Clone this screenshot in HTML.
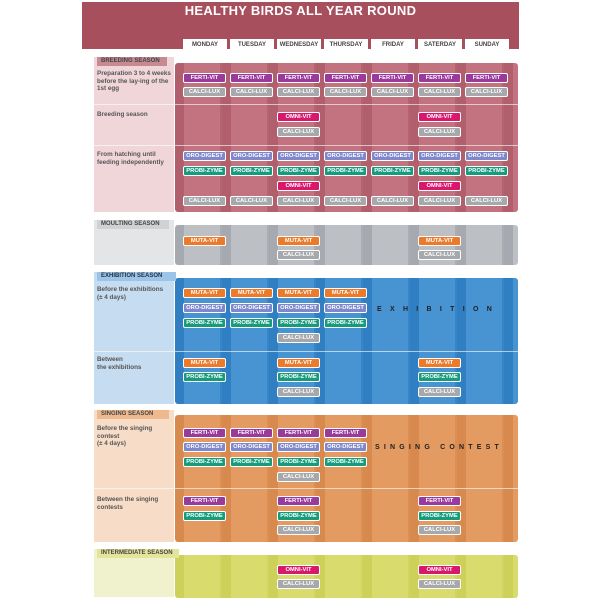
<!DOCTYPE html>
<html><head><meta charset="utf-8"><style>
*{margin:0;padding:0;box-sizing:border-box}
body{width:600px;height:600px;background:#fff;position:relative;overflow:hidden;font-family:"Liberation Sans",sans-serif}
div{position:absolute}
.hdr{left:82px;top:2px;width:437px;height:47px;background:#a84f5d}
.title{left:82px;top:3px;width:437px;text-align:center;color:#fff;font-weight:bold;font-size:13px;letter-spacing:0.3px}
.day{top:39px;width:44px;height:11px;background:#fff;color:#444;font-size:6px;font-weight:bold;text-align:center;line-height:12px;white-space:nowrap}
.tag{height:9px;font-size:6px;font-weight:bold;color:#444;line-height:9px;padding-left:4px;white-space:nowrap}
.lab{font-size:6.3px;font-weight:bold;color:#555;line-height:7.5px;left:97px;width:76px}
.b{width:43px;height:10px;border:1px solid #fff;border-radius:2px;color:#fff;font-size:5.8px;font-weight:bold;text-align:center;line-height:8px;white-space:nowrap;overflow:hidden}
.F{background:#9a3b9c}.C{background:#a7a8ab}.O{background:#d9186c}.D{background:#7f88cb}.P{background:#169c7d}.M{background:#eb7a2a}
.panel{left:175px;width:343px;border-radius:3px}
.big{font-size:7px;font-weight:bold;color:#222;white-space:nowrap}
.hl{left:94px;width:424px;height:1px;background:rgba(255,255,255,0.6)}
</style></head><body>
<div class="hdr"></div>
<div class="title">HEALTHY BIRDS ALL YEAR ROUND</div>
<div class="day" style="left:183px">MONDAY</div>
<div class="day" style="left:230px">TUESDAY</div>
<div class="day" style="left:277px">WEDNESDAY</div>
<div class="day" style="left:324px">THURSDAY</div>
<div class="day" style="left:371px">FRIDAY</div>
<div class="day" style="left:418px">SATERDAY</div>
<div class="day" style="left:465px">SUNDAY</div>

<!-- Breeding -->
<div style="left:94px;top:57px;width:80px;height:155px;background:#f0d6d9"></div>
<div class="panel" style="top:63px;height:149px;background:repeating-linear-gradient(90deg,#b15f6c 0 9px,#c2737f 9px 45px,#b5646f 45px 47px)"></div>
<div class="hl" style="top:104px"></div><div class="hl" style="top:145px"></div>
<div class="tag" style="left:97px;top:57px;width:70px;background:#c58a92">BREEDING SEASON</div>
<div class="lab" style="top:70px">Preparation 3 to 4 weeks before the lay-ing of the 1st egg</div>
<div class="lab" style="top:111px">Breeding season</div>
<div class="lab" style="top:151px">From hatching until feeding independently</div>

<!-- Moulting -->
<div style="left:94px;top:220px;width:80px;height:45px;background:#e4e5e7"></div>
<div class="panel" style="top:225px;height:40px;background:repeating-linear-gradient(90deg,#a6aab0 0 9px,#bcbfc4 9px 45px,#aaaeb3 45px 47px)"></div>
<div class="tag" style="left:97px;top:220px;width:72px;background:#cfd1d4">MOULTING SEASON</div>

<!-- Exhibition -->
<div style="left:94px;top:272px;width:80px;height:132px;background:#c6dcf0"></div>
<div class="panel" style="top:278px;height:126px;background:repeating-linear-gradient(90deg,#2f7fc2 0 9px,#4893d2 9px 45px,#3585c8 45px 47px)"></div>
<div class="hl" style="top:351px"></div>
<div class="tag" style="left:97px;top:272px;width:79px;background:#9cc4e8;color:#234">EXHIBITION SEASON</div>
<div class="lab" style="top:286px">Before the exhibitions<br>(± 4 days)</div>
<div class="lab" style="top:356px">Between<br>the exhibitions</div>
<div class="big" style="left:377px;top:306px;letter-spacing:8.3px">EXHIBITION</div>

<!-- Singing -->
<div style="left:94px;top:410px;width:80px;height:132px;background:#f7dcc7"></div>
<div class="panel" style="top:415px;height:127px;background:repeating-linear-gradient(90deg,#d88a4e 0 9px,#e39b62 9px 45px,#db8f54 45px 47px)"></div>
<div class="hl" style="top:488px"></div>
<div class="tag" style="left:97px;top:410px;width:72px;background:#f0b98d">SINGING SEASON</div>
<div class="lab" style="top:425px">Before the singing contest<br>(± 4 days)</div>
<div class="lab" style="top:496px">Between the singing contests</div>
<div class="big" style="left:375px;top:444px;letter-spacing:4.2px">SINGING CONTEST</div>

<!-- Intermediate -->
<div style="left:94px;top:549px;width:80px;height:48px;background:#f0f1cd"></div>
<div class="panel" style="top:555px;height:43px;background:repeating-linear-gradient(90deg,#cdd15a 0 9px,#d9dc6c 9px 45px,#d0d460 45px 47px)"></div>
<div class="tag" style="left:97px;top:549px;width:82px;background:#e3e59a">INTERMEDIATE SEASON</div>

<!-- badges breeding -->
<div class="b F" style="left:183px;top:73px">FERTI-VIT</div><div class="b F" style="left:230px;top:73px">FERTI-VIT</div><div class="b F" style="left:277px;top:73px">FERTI-VIT</div><div class="b F" style="left:324px;top:73px">FERTI-VIT</div><div class="b F" style="left:371px;top:73px">FERTI-VIT</div><div class="b F" style="left:418px;top:73px">FERTI-VIT</div><div class="b F" style="left:465px;top:73px">FERTI-VIT</div>
<div class="b C" style="left:183px;top:87px">CALCI-LUX</div><div class="b C" style="left:230px;top:87px">CALCI-LUX</div><div class="b C" style="left:277px;top:87px">CALCI-LUX</div><div class="b C" style="left:324px;top:87px">CALCI-LUX</div><div class="b C" style="left:371px;top:87px">CALCI-LUX</div><div class="b C" style="left:418px;top:87px">CALCI-LUX</div><div class="b C" style="left:465px;top:87px">CALCI-LUX</div>
<div class="b O" style="left:277px;top:112px">OMNI-VIT</div><div class="b O" style="left:418px;top:112px">OMNI-VIT</div>
<div class="b C" style="left:277px;top:127px">CALCI-LUX</div><div class="b C" style="left:418px;top:127px">CALCI-LUX</div>
<div class="b D" style="left:183px;top:151px">ORO-DIGEST</div><div class="b D" style="left:230px;top:151px">ORO-DIGEST</div><div class="b D" style="left:277px;top:151px">ORO-DIGEST</div><div class="b D" style="left:324px;top:151px">ORO-DIGEST</div><div class="b D" style="left:371px;top:151px">ORO-DIGEST</div><div class="b D" style="left:418px;top:151px">ORO-DIGEST</div><div class="b D" style="left:465px;top:151px">ORO-DIGEST</div>
<div class="b P" style="left:183px;top:166px">PROBI-ZYME</div><div class="b P" style="left:230px;top:166px">PROBI-ZYME</div><div class="b P" style="left:277px;top:166px">PROBI-ZYME</div><div class="b P" style="left:324px;top:166px">PROBI-ZYME</div><div class="b P" style="left:371px;top:166px">PROBI-ZYME</div><div class="b P" style="left:418px;top:166px">PROBI-ZYME</div><div class="b P" style="left:465px;top:166px">PROBI-ZYME</div>
<div class="b O" style="left:277px;top:181px">OMNI-VIT</div><div class="b O" style="left:418px;top:181px">OMNI-VIT</div>
<div class="b C" style="left:183px;top:196px">CALCI-LUX</div><div class="b C" style="left:230px;top:196px">CALCI-LUX</div><div class="b C" style="left:277px;top:196px">CALCI-LUX</div><div class="b C" style="left:324px;top:196px">CALCI-LUX</div><div class="b C" style="left:371px;top:196px">CALCI-LUX</div><div class="b C" style="left:418px;top:196px">CALCI-LUX</div><div class="b C" style="left:465px;top:196px">CALCI-LUX</div>
<!-- moulting -->
<div class="b M" style="left:183px;top:236px">MUTA-VIT</div><div class="b M" style="left:277px;top:236px">MUTA-VIT</div><div class="b M" style="left:418px;top:236px">MUTA-VIT</div>
<div class="b C" style="left:277px;top:250px">CALCI-LUX</div><div class="b C" style="left:418px;top:250px">CALCI-LUX</div>
<!-- exhibition -->
<div class="b M" style="left:183px;top:288px">MUTA-VIT</div><div class="b M" style="left:230px;top:288px">MUTA-VIT</div><div class="b M" style="left:277px;top:288px">MUTA-VIT</div><div class="b M" style="left:324px;top:288px">MUTA-VIT</div>
<div class="b D" style="left:183px;top:303px">ORO-DIGEST</div><div class="b D" style="left:230px;top:303px">ORO-DIGEST</div><div class="b D" style="left:277px;top:303px">ORO-DIGEST</div><div class="b D" style="left:324px;top:303px">ORO-DIGEST</div>
<div class="b P" style="left:183px;top:318px">PROBI-ZYME</div><div class="b P" style="left:230px;top:318px">PROBI-ZYME</div><div class="b P" style="left:277px;top:318px">PROBI-ZYME</div><div class="b P" style="left:324px;top:318px">PROBI-ZYME</div>
<div class="b C" style="left:277px;top:333px">CALCI-LUX</div>
<div class="b M" style="left:183px;top:358px">MUTA-VIT</div><div class="b M" style="left:277px;top:358px">MUTA-VIT</div><div class="b M" style="left:418px;top:358px">MUTA-VIT</div>
<div class="b P" style="left:183px;top:372px">PROBI-ZYME</div><div class="b P" style="left:277px;top:372px">PROBI-ZYME</div><div class="b P" style="left:418px;top:372px">PROBI-ZYME</div>
<div class="b C" style="left:277px;top:387px">CALCI-LUX</div><div class="b C" style="left:418px;top:387px">CALCI-LUX</div>
<!-- singing -->
<div class="b F" style="left:183px;top:428px">FERTI-VIT</div><div class="b F" style="left:230px;top:428px">FERTI-VIT</div><div class="b F" style="left:277px;top:428px">FERTI-VIT</div><div class="b F" style="left:324px;top:428px">FERTI-VIT</div>
<div class="b D" style="left:183px;top:442px">ORO-DIGEST</div><div class="b D" style="left:230px;top:442px">ORO-DIGEST</div><div class="b D" style="left:277px;top:442px">ORO-DIGEST</div><div class="b D" style="left:324px;top:442px">ORO-DIGEST</div>
<div class="b P" style="left:183px;top:457px">PROBI-ZYME</div><div class="b P" style="left:230px;top:457px">PROBI-ZYME</div><div class="b P" style="left:277px;top:457px">PROBI-ZYME</div><div class="b P" style="left:324px;top:457px">PROBI-ZYME</div>
<div class="b C" style="left:277px;top:472px">CALCI-LUX</div>
<div class="b F" style="left:183px;top:496px">FERTI-VIT</div><div class="b F" style="left:277px;top:496px">FERTI-VIT</div><div class="b F" style="left:418px;top:496px">FERTI-VIT</div>
<div class="b P" style="left:183px;top:511px">PROBI-ZYME</div><div class="b P" style="left:277px;top:511px">PROBI-ZYME</div><div class="b P" style="left:418px;top:511px">PROBI-ZYME</div>
<div class="b C" style="left:277px;top:525px">CALCI-LUX</div><div class="b C" style="left:418px;top:525px">CALCI-LUX</div>
<!-- intermediate -->
<div class="b O" style="left:277px;top:565px">OMNI-VIT</div><div class="b O" style="left:418px;top:565px">OMNI-VIT</div>
<div class="b C" style="left:277px;top:579px">CALCI-LUX</div><div class="b C" style="left:418px;top:579px">CALCI-LUX</div>
</body></html>
